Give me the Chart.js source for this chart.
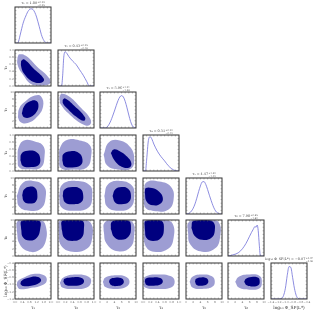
<!DOCTYPE html>
<html>
<head>
<meta charset="utf-8">
<script src="https://cdn.jsdelivr.net/npm/chart.js@4.4.4/dist/chart.umd.min.js"></script>
<style>
  html, body { margin: 0; padding: 0; background: #fff; }
  #grid { position: relative; width: 317px; height: 312px; overflow: hidden; }
  #grid canvas { position: absolute; }
</style>
</head>
<body>
<div id="grid"></div>
<script>
// Corner plot: 7 parameters, 1D marginals on the diagonal, 68/95% contours below it.

const LABELS = ['τ₁', 'τ₂', 'τ₃', 'τ₄', 'τ₅', 'τ₆', 'log₁₀ Φ_SF(L*)'];
const MEDIANS = ['1.08', '0.43', '5.96', '0.31', '4.47', '7.90', '−0.87'];
const ERR_UP = ['0.29', '0.25', '1.21', '0.20', '1.50', '0.85', '0.07'];
const ERR_DN = ['0.25', '0.18', '1.36', '0.12', '1.42', '1.60', '0.06'];

const AXIS_MIN = [0, 0, 0, 0, 0, 0, -1.4];
const AXIS_MAX = [2, 1, 10, 1, 10, 10, -0.4];
const TICKS = [
  [0, 0.4, 0.8, 1.2, 1.6, 2.0],
  [0, 0.2, 0.4, 0.6, 0.8, 1.0],
  [0, 2, 4, 6, 8, 10],
  [0, 0.2, 0.4, 0.6, 0.8, 1.0],
  [0, 2, 4, 6, 8, 10],
  [0, 2, 4, 6, 8, 10],
  [-1.4, -1.2, -1.0, -0.8, -0.6, -0.4],
];
const DECIMALS = [1, 1, 0, 1, 0, 0, 1];

// marginal densities (normalised to the peak)
const MARG_T1_X = [0, 0.15, 0.2, 0.3, 0.45, 0.6, 0.75, 0.9, 1.0, 1.1, 1.2, 1.35, 1.5, 1.65, 1.8, 2.0];
const MARG_T1_Y = [0, 0, 0.05, 0.25, 0.55, 0.75, 0.9, 0.95, 0.93, 0.85, 0.72, 0.45, 0.18, 0.04, 0, 0];
const MARG_T2_X = [0, 0.1, 0.13, 0.16, 0.2, 0.25, 0.3, 0.4, 0.5, 0.6, 0.7, 0.8, 0.87, 1.0];
const MARG_T2_Y = [0, 0, 0.3, 0.8, 0.95, 0.9, 0.82, 0.7, 0.6, 0.45, 0.3, 0.12, 0, 0];
const MARG_T3_X = [0, 1.5, 2, 2.5, 3, 3.5, 4, 4.5, 5, 5.5, 6, 6.5, 7, 7.5, 8, 8.5, 9, 9.5, 10];
const MARG_T3_Y = [0, 0, 0.03, 0.1, 0.2, 0.33, 0.47, 0.62, 0.76, 0.86, 0.9, 0.86, 0.74, 0.56, 0.36, 0.18, 0.06, 0.01, 0];
const MARG_T4_X = [0, 0.07, 0.1, 0.15, 0.2, 0.25, 0.3, 0.4, 0.5, 0.6, 0.7, 0.8, 0.9, 1.0];
const MARG_T4_Y = [0, 0, 0.3, 0.85, 0.95, 0.88, 0.75, 0.55, 0.4, 0.28, 0.15, 0.06, 0.01, 0];
const MARG_T5_X = [0, 0.5, 1, 1.5, 2, 2.5, 3, 3.5, 4, 4.5, 5, 5.5, 6, 6.5, 7, 7.5, 8, 8.5, 9, 9.5, 10];
const MARG_T5_Y = [0, 0.01, 0.03, 0.08, 0.16, 0.28, 0.44, 0.62, 0.78, 0.89, 0.9, 0.82, 0.68, 0.52, 0.37, 0.23, 0.12, 0.05, 0.02, 0, 0];
const MARG_T6_X = [0, 1, 2, 3, 4, 5, 6, 6.5, 7, 7.5, 7.8, 8.1, 8.4, 8.7, 9, 10];
const MARG_T6_Y = [0, 0.02, 0.05, 0.1, 0.2, 0.35, 0.55, 0.65, 0.74, 0.82, 0.8, 0.86, 0.7, 0.3, 0, 0];
const MARG_LP_X = [-1.4, -1.2, -1.1, -1.05, -1.0, -0.95, -0.9, -0.85, -0.8, -0.75, -0.7, -0.65, -0.6, -0.4];
const MARG_LP_Y = [0, 0, 0.02, 0.1, 0.3, 0.65, 0.9, 0.88, 0.6, 0.3, 0.1, 0.02, 0, 0];

// 2D credible regions, outer (95%) and inner (68%), as [x, y] outlines
const OUT_T2_T1 = [[0.14, 0.8], [0.24, 0.88], [0.6, 0.84], [1.2, 0.55], [1.92, 0.2], [1.9, 0.05], [1.0, 0.03], [0.4, 0.35], [0.14, 0.6]];
const IN_T2_T1 = [[0.34, 0.7], [0.5, 0.74], [1.0, 0.5], [1.6, 0.2], [1.5, 0.1], [1.0, 0.12], [0.5, 0.35], [0.34, 0.55]];

const OUT_T3_T1 = [[0.16, 3], [0.3, 1.7], [0.7, 1.4], [1.2, 3], [1.56, 6], [1.44, 8.8], [1.1, 9], [0.6, 7.5], [0.24, 5.5]];
const IN_T3_T1 = [[0.38, 4], [0.5, 3], [0.84, 3], [1.2, 4.5], [1.3, 6.5], [1.16, 7.6], [0.84, 7.4], [0.5, 6]];
const OUT_T3_T2 = [[0.04, 8.5], [0.1, 9.5], [0.3, 8.8], [0.6, 6], [0.9, 2.5], [0.88, 0.8], [0.7, 1], [0.35, 3.5], [0.08, 6.5]];
const IN_T3_T2 = [[0.13, 7.8], [0.2, 8.2], [0.45, 6.2], [0.75, 3], [0.72, 2], [0.5, 3.2], [0.25, 5.5], [0.14, 6.8]];

const OUT_T4_T1 = [[0.14, 0.35], [0.24, 0.1], [0.8, 0.05], [1.44, 0.1], [1.64, 0.4], [1.56, 0.7], [1.1, 0.82], [0.5, 0.85], [0.2, 0.65]];
const IN_T4_T1 = [[0.3, 0.3], [0.44, 0.14], [0.9, 0.11], [1.3, 0.16], [1.4, 0.35], [1.2, 0.52], [0.7, 0.56], [0.36, 0.48]];
const OUT_T4_T2 = [[0.03, 0.35], [0.08, 0.08], [0.4, 0.04], [0.8, 0.1], [0.92, 0.4], [0.88, 0.72], [0.6, 0.85], [0.25, 0.86], [0.06, 0.65]];
const IN_T4_T2 = [[0.12, 0.3], [0.18, 0.13], [0.4, 0.1], [0.62, 0.15], [0.68, 0.32], [0.58, 0.5], [0.35, 0.55], [0.15, 0.47]];
const OUT_T4_T3 = [[1, 0.45], [2, 0.15], [5, 0.04], [8.5, 0.06], [9.5, 0.3], [8.5, 0.65], [5.5, 0.85], [2.5, 0.8]];
const IN_T4_T3 = [[3, 0.5], [4, 0.3], [6, 0.12], [8.2, 0.1], [8.7, 0.22], [7.5, 0.4], [5.5, 0.55], [3.8, 0.6]];

const OUT_T5_T1 = [[0.1, 5], [0.24, 2], [0.8, 0.9], [1.44, 1.5], [1.7, 4.5], [1.6, 7.8], [1.0, 9.2], [0.4, 8.5]];
const IN_T5_T1 = [[0.4, 5.2], [0.5, 3.5], [0.84, 2.9], [1.16, 3.5], [1.24, 5.5], [1.12, 7.2], [0.8, 7.6], [0.5, 6.8]];
const OUT_T5_T2 = [[0.03, 5], [0.1, 1.8], [0.45, 0.9], [0.85, 1.8], [0.95, 5], [0.88, 8], [0.5, 9.2], [0.12, 8.2]];
const IN_T5_T2 = [[0.13, 5], [0.2, 3.2], [0.42, 2.7], [0.65, 3.3], [0.7, 5.2], [0.62, 7], [0.4, 7.5], [0.18, 6.8]];
const OUT_T5_T3 = [[1.2, 5], [2, 2], [5, 0.9], [8.5, 1.8], [9.5, 5], [8.8, 8], [5.5, 9.2], [2.2, 8.2]];
const IN_T5_T3 = [[3.5, 5], [4.2, 3.2], [6, 2.7], [8, 3.3], [8.6, 5.2], [7.8, 7], [6, 7.5], [4.2, 6.8]];
const OUT_T5_T4 = [[0.02, 5.5], [0.05, 2], [0.3, 0.8], [0.7, 1.2], [0.85, 4], [0.78, 7.5], [0.45, 9], [0.1, 8.8]];
const IN_T5_T4 = [[0.05, 6], [0.1, 3.5], [0.28, 2.4], [0.5, 3], [0.55, 4.5], [0.45, 6.2], [0.25, 7.2], [0.08, 7.2]];

const OUT_T6_T1 = [[0.1, 7], [0.24, 3.5], [0.7, 1.4], [1.3, 1.5], [1.7, 4], [1.7, 8.5], [1.4, 10], [0.4, 10], [0.12, 9.5]];
const IN_T6_T1 = [[0.34, 7.5], [0.44, 5.2], [0.8, 4.3], [1.2, 5], [1.4, 7.5], [1.36, 9.7], [0.8, 10], [0.36, 9.7]];
const OUT_T6_T2 = [[0.02, 7], [0.08, 3], [0.4, 1.2], [0.8, 2], [0.95, 5], [0.92, 9], [0.7, 10], [0.2, 10], [0.02, 9.5]];
const IN_T6_T2 = [[0.1, 7.5], [0.18, 5], [0.4, 4.2], [0.65, 5], [0.72, 7.5], [0.68, 9.8], [0.4, 10], [0.12, 9.8]];
const OUT_T6_T3 = [[1, 7], [1.8, 3.5], [5, 1.3], [8.5, 2.5], [9.5, 6], [9.2, 9.2], [7, 10], [3, 10], [1.2, 9.2]];
const IN_T6_T3 = [[3, 7.5], [4, 5.2], [6, 4.5], [8, 5.5], [8.6, 7.8], [8, 9.8], [5.5, 10], [3.3, 9.5]];
const OUT_T6_T4 = [[0.02, 7], [0.06, 3], [0.3, 1.2], [0.7, 2], [0.85, 5], [0.82, 9], [0.6, 10], [0.1, 10], [0.02, 9.5]];
const IN_T6_T4 = [[0.05, 7.5], [0.1, 5], [0.28, 4.2], [0.5, 5], [0.58, 7.5], [0.52, 9.8], [0.3, 10], [0.07, 9.7]];
const OUT_T6_T5 = [[0.5, 7], [1.2, 3.2], [4.5, 1.2], [8.2, 2.2], [9.5, 5.5], [9.2, 9.2], [7, 10], [2.5, 10], [0.6, 9.2]];
const IN_T6_T5 = [[1.5, 7.8], [2.5, 5.5], [4.5, 4.5], [7, 5], [8, 7], [7.5, 9.5], [5, 10], [2, 9.7]];

const OUT_LP_T1 = [[0.1, -1.02], [0.24, -1.12], [0.8, -1.1], [1.5, -1.02], [1.76, -0.9], [1.64, -0.75], [1.1, -0.7], [0.5, -0.8], [0.16, -0.9]];
const IN_LP_T1 = [[0.3, -0.98], [0.44, -1.04], [0.9, -1.03], [1.36, -0.95], [1.44, -0.85], [1.2, -0.78], [0.7, -0.82], [0.36, -0.9]];
const OUT_LP_T2 = [[0.05, -0.95], [0.12, -1.08], [0.45, -1.12], [0.8, -1.08], [0.92, -0.92], [0.85, -0.78], [0.5, -0.72], [0.15, -0.8]];
const IN_LP_T2 = [[0.15, -0.92], [0.22, -1.01], [0.45, -1.03], [0.68, -0.98], [0.72, -0.88], [0.62, -0.8], [0.35, -0.8], [0.18, -0.84]];
const OUT_LP_T3 = [[0.8, -0.92], [1.5, -1.07], [4.5, -1.12], [7.2, -1.07], [8.2, -0.92], [7.2, -0.78], [4.5, -0.74], [1.5, -0.8]];
const IN_LP_T3 = [[2.5, -0.93], [3.2, -1.02], [4.8, -1.04], [6.2, -1.0], [6.6, -0.9], [5.8, -0.82], [4.2, -0.81], [2.8, -0.85]];
const OUT_LP_T4 = [[0.01, -0.92], [0.06, -1.08], [0.4, -1.12], [0.78, -1.08], [0.88, -0.92], [0.78, -0.77], [0.4, -0.72], [0.06, -0.78]];
const IN_LP_T4 = [[0.05, -0.92], [0.1, -1.01], [0.3, -1.03], [0.5, -0.99], [0.55, -0.9], [0.48, -0.82], [0.28, -0.8], [0.08, -0.83]];
const OUT_LP_T5 = [[1, -0.92], [1.8, -1.08], [4.5, -1.12], [7.2, -1.07], [8, -0.92], [7.2, -0.77], [4.5, -0.72], [1.8, -0.78]];
const IN_LP_T5 = [[2.5, -0.92], [3, -1.01], [4.5, -1.03], [5.8, -0.99], [6.2, -0.9], [5.6, -0.82], [4.2, -0.8], [2.8, -0.84]];
const OUT_LP_T6 = [[2, -0.92], [3, -1.08], [6, -1.14], [8.8, -1.1], [9.4, -0.92], [8.8, -0.76], [6, -0.72], [3, -0.78]];
const IN_LP_T6 = [[4.5, -0.92], [5.2, -1.02], [7, -1.05], [8.5, -1.01], [8.8, -0.9], [8.4, -0.81], [6.5, -0.79], [5, -0.84]];

const MARGINALS = [
  [MARG_T1_X, MARG_T1_Y], [MARG_T2_X, MARG_T2_Y], [MARG_T3_X, MARG_T3_Y], [MARG_T4_X, MARG_T4_Y],
  [MARG_T5_X, MARG_T5_Y], [MARG_T6_X, MARG_T6_Y], [MARG_LP_X, MARG_LP_Y],
];
// [row, col, outer, inner]
const PAIRS = [
  [1, 0, OUT_T2_T1, IN_T2_T1],
  [2, 0, OUT_T3_T1, IN_T3_T1], [2, 1, OUT_T3_T2, IN_T3_T2],
  [3, 0, OUT_T4_T1, IN_T4_T1], [3, 1, OUT_T4_T2, IN_T4_T2], [3, 2, OUT_T4_T3, IN_T4_T3],
  [4, 0, OUT_T5_T1, IN_T5_T1], [4, 1, OUT_T5_T2, IN_T5_T2], [4, 2, OUT_T5_T3, IN_T5_T3], [4, 3, OUT_T5_T4, IN_T5_T4],
  [5, 0, OUT_T6_T1, IN_T6_T1], [5, 1, OUT_T6_T2, IN_T6_T2], [5, 2, OUT_T6_T3, IN_T6_T3], [5, 3, OUT_T6_T4, IN_T6_T4], [5, 4, OUT_T6_T5, IN_T6_T5],
  [6, 0, OUT_LP_T1, IN_LP_T1], [6, 1, OUT_LP_T2, IN_LP_T2], [6, 2, OUT_LP_T3, IN_LP_T3], [6, 3, OUT_LP_T4, IN_LP_T4], [6, 4, OUT_LP_T5, IN_LP_T5], [6, 5, OUT_LP_T6, IN_LP_T6],
];

// ---- layout / style ----
const N = LABELS.length;
const PANEL = 36, STEP = 42.67, X0 = 15, Y0 = 7;
const PAD = { l: 15, r: 8, t: 9, b: 14 };
const SERIF = '"DejaVu Serif", "Liberation Serif", serif';
const INNER = '#00007f', OUTER = '#9d9dd3', LINE = '#7070d8', FRAME = '#333', TICK = '#777', TEXT = '#666';

const fmt = (v, d) => v.toFixed(d).replace('-', '−');
const closed = (pts) => [...pts, pts[0]].map(([x, y]) => ({ x, y }));

// box + inward ticks on all four sides (major + half-step minor)
const framePlugin = {
  id: 'frame',
  afterDraw(chart) {
    const { ctx, chartArea: a, scales } = chart;
    const pos = (s) => {
      const v = s.ticks.map((t) => t.value);
      const out = v.slice(1, -1).map((x) => s.getPixelForValue(x));
      for (let k = 1; k < v.length; k++) out.push(s.getPixelForValue((v[k - 1] + v[k]) / 2));
      return out;
    };
    ctx.save();
    ctx.strokeStyle = TICK;
    ctx.lineWidth = 0.45;
    ctx.beginPath();
    pos(scales.x).forEach((p) => {
      ctx.moveTo(p, a.bottom); ctx.lineTo(p, a.bottom - 1.5);
      ctx.moveTo(p, a.top); ctx.lineTo(p, a.top + 1.5);
    });
    pos(scales.y).forEach((p) => {
      ctx.moveTo(a.left, p); ctx.lineTo(a.left + 1.5, p);
      ctx.moveTo(a.right, p); ctx.lineTo(a.right - 1.5, p);
    });
    ctx.stroke();
    ctx.strokeStyle = FRAME;
    ctx.lineWidth = 1;
    ctx.strokeRect(a.left, a.top, a.right - a.left, a.bottom - a.top);
    ctx.restore();
  },
};

// "name = median^{+up}_{-dn}" above each diagonal panel
const medianTitle = {
  id: 'medianTitle',
  afterDraw(chart, args, opts) {
    if (!opts || !opts.text) return;
    const { ctx, chartArea: a } = chart;
    ctx.save();
    ctx.fillStyle = '#444';
    ctx.textBaseline = 'alphabetic';
    ctx.font = `3.4px ${SERIF}`;
    const main = `${opts.text} = ${opts.median}`;
    const wMain = ctx.measureText(main).width;
    ctx.font = `2.3px ${SERIF}`;
    const wSmall = Math.max(ctx.measureText('+' + opts.up).width, ctx.measureText('−' + opts.dn).width);
    const x = (a.left + a.right) / 2 - (wMain + wSmall + 0.4) / 2;
    const y = a.top - 2.6;
    ctx.font = `3.4px ${SERIF}`;
    ctx.fillText(main, x, y);
    ctx.font = `2.3px ${SERIF}`;
    ctx.fillText('+' + opts.up, x + wMain + 0.4, y - 1.6);
    ctx.fillText('−' + opts.dn, x + wMain + 0.4, y + 1.1);
    ctx.restore();
  },
};

function paramAxis(i, isX, showTicks, showTitle) {
  return {
    type: 'linear',
    position: isX ? 'bottom' : 'left',
    min: AXIS_MIN[i],
    max: AXIS_MAX[i],
    grid: { display: false, drawTicks: false },
    border: { display: false },
    afterBuildTicks: (s) => { s.ticks = TICKS[i].map((value) => ({ value })); },
    afterFit: (s) => { if (isX) s.height = PAD.b; else s.width = PAD.l; },
    ticks: {
      display: showTicks,
      autoSkip: false,
      maxRotation: 0,
      minRotation: 0,
      padding: 1.2,
      color: TEXT,
      font: { family: SERIF, size: 2.8 },
      callback: (v) => fmt(v, DECIMALS[i]),
    },
    title: {
      display: showTitle,
      text: LABELS[i],
      color: '#333',
      font: { family: SERIF, size: 4.3 },
      padding: isX ? { top: 0, bottom: 2.2 } : { top: 3.8, bottom: 0 },
    },
  };
}

function densityAxis() {
  return {
    type: 'linear',
    position: 'left',
    min: 0,
    max: 1,
    grid: { display: false, drawTicks: false },
    border: { display: false },
    afterBuildTicks: (s) => { s.ticks = [0, 0.2, 0.4, 0.6, 0.8, 1].map((value) => ({ value })); },
    afterFit: (s) => { s.width = PAD.l; },
    ticks: { display: false },
  };
}

const grid = document.getElementById('grid');

function makePanel(row, col, datasets, scales, title) {
  const canvas = document.createElement('canvas');
  const w = PANEL + PAD.l + PAD.r, h = PANEL + PAD.t + PAD.b;
  canvas.width = w;
  canvas.height = h;
  canvas.style.width = w + 'px';
  canvas.style.height = h + 'px';
  canvas.style.left = (Math.round(X0 + col * STEP) - PAD.l) + 'px';
  canvas.style.top = (Math.round(Y0 + row * STEP) - PAD.t) + 'px';
  grid.appendChild(canvas);
  return new Chart(canvas, {
    type: 'scatter',
    data: { datasets },
    options: {
      responsive: false,
      animation: false,
      devicePixelRatio: 1,
      events: [],
      layout: { padding: { left: 0, right: PAD.r, top: PAD.t, bottom: 0 } },
      scales,
      plugins: {
        legend: { display: false },
        tooltip: { enabled: false },
        medianTitle: title || {},
      },
    },
    plugins: [framePlugin, medianTitle],
  });
}

// diagonal marginals
for (let i = 0; i < N; i++) {
  const [xs, ys] = MARGINALS[i];
  makePanel(i, i, [{
    data: xs.map((x, k) => ({ x, y: ys[k] })),
    showLine: true,
    borderColor: LINE,
    borderWidth: 0.8,
    pointRadius: 0,
    cubicInterpolationMode: 'monotone',
    fill: false,
  }], {
    x: paramAxis(i, true, i === N - 1, i === N - 1),
    y: densityAxis(),
  }, { text: LABELS[i], median: MEDIANS[i], up: ERR_UP[i], dn: ERR_DN[i] });
}

// off-diagonal contours (inner listed first so it draws on top)
PAIRS.forEach(([row, col, outer, inner]) => {
  const blob = (pts, color) => ({
    data: closed(pts),
    showLine: true,
    borderWidth: 0,
    borderColor: color,
    backgroundColor: color,
    pointRadius: 0,
    tension: 0.45,
    fill: 'shape',
  });
  makePanel(row, col, [blob(inner, INNER), blob(outer, OUTER)], {
    x: paramAxis(col, true, row === N - 1, row === N - 1),
    y: paramAxis(row, false, col === 0, col === 0),
  });
});
</script>
</body>
</html>
